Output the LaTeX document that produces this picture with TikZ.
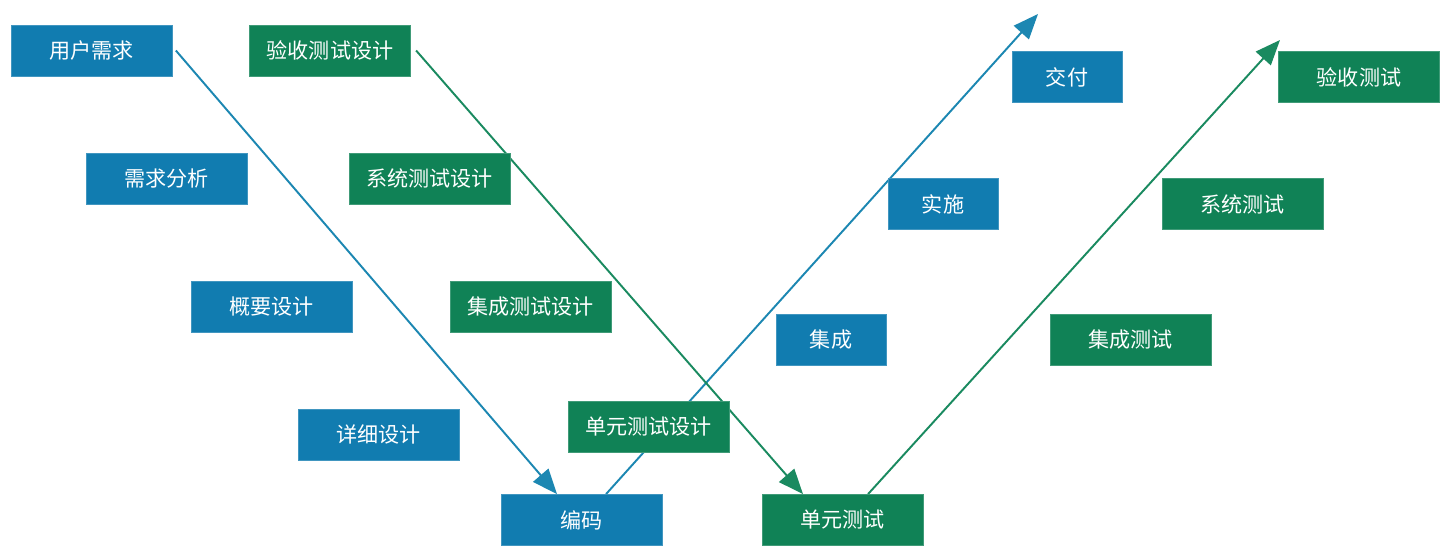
\documentclass[tikz,border=0pt]{standalone}
\usepackage{fontspec}
\newfontfamily\cjk{Noto Sans CJK SC}
\usepackage{xcolor}
\usepackage{tikz}
\usetikzlibrary{arrows.meta,backgrounds}
\definecolor{vblue}{RGB}{17,124,176}
\definecolor{vgreen}{RGB}{16,130,86}
\definecolor{lblue}{RGB}{28,135,178}
\definecolor{lgreen}{RGB}{26,138,96}

\begin{document}
\begin{tikzpicture}[x=0.02cm, y=-0.02cm,
    box/.style = {minimum width=3.22cm, minimum height=1.02cm, inner sep=0pt,
        text=white, font=\cjk\fontsize{12}{14}\selectfont},
    bluebox/.style = {box, fill=vblue, draw=vblue!80!white, line width=0.4pt},
    greenbox/.style = {box, fill=vgreen, draw=vgreen!80!white, line width=0.4pt},
    smallbox/.style = {minimum width=2.2cm},
    flow/.style = {line width=1.1pt, -{Triangle[length=0.5cm, width=0.4cm]}}]
    \useasboundingbox (0,0) rectangle (1453,553);

    % left side of the V
    \node[bluebox] (user) at (91.5,50.5) {用户需求};
    \node[bluebox] (reqana) at (166.5,178.5) {需求分析};
    \node[bluebox] (outline) at (271.5,307) {概要设计};
    \node[bluebox] (detail) at (378.5,434.5) {详细设计};
    \node[bluebox] (code) at (581.5,520) {编码};

    % test design
    \node[greenbox] (acceptdesign) at (330,50.5) {验收测试设计};
    \node[greenbox] (sysdesign) at (429.5,178.5) {系统测试设计};
    \node[greenbox] (integdesign) at (530.5,307) {集成测试设计};
    \node[greenbox] (unitdesign) at (648.5,426.5) {单元测试设计};

    % right side of the V
    \node[greenbox] (unittest) at (842.5,520) {单元测试};
    \node[greenbox] (integtest) at (1130.5,340) {集成测试};
    \node[greenbox] (systest) at (1242.5,204) {系统测试};
    \node[greenbox] (accepttest) at (1359,77) {验收测试};

    \node[bluebox,smallbox] (integ) at (831,340) {集成};
    \node[bluebox,smallbox] (deploy) at (943,204) {实施};
    \node[bluebox,smallbox] (deliver) at (1067,77) {交付};

    \coordinate (blueend) at (1038,14);
    \coordinate (greenend) at (1280,40);

    % arrows behind the boxes
    \begin{scope}[on background layer]
        \fill[white] (0,0) rectangle (1453,553);
        \draw[flow,lblue] ([xshift=2pt]user.east) -- ([xshift=-0.49cm]code.north);
        \draw[flow,lblue] ([xshift=0.49cm]code.north) -- (blueend);
        \draw[flow,lgreen] ([xshift=3pt]acceptdesign.east) -- ([xshift=-0.79cm]unittest.north);
        \draw[flow,lgreen] ([xshift=0.51cm]unittest.north) -- (greenend);
    \end{scope}
\end{tikzpicture}
\end{document}
